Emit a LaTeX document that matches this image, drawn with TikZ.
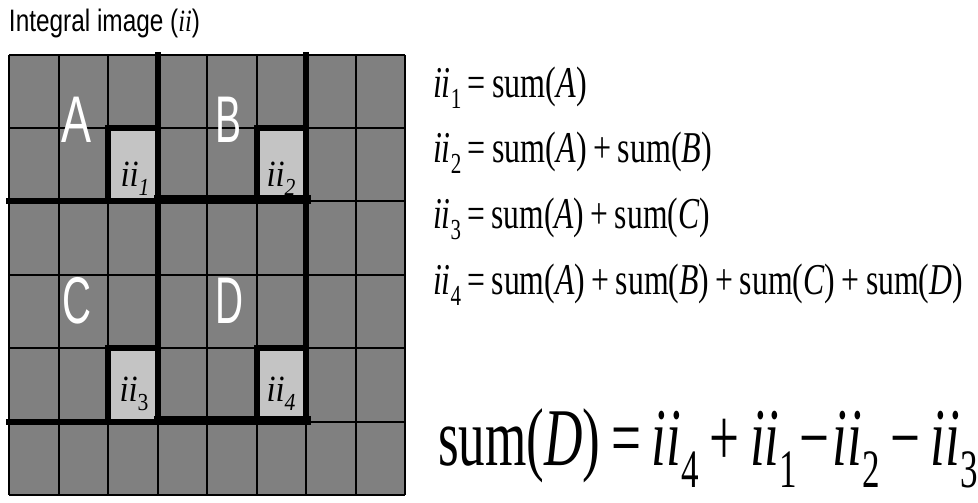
\documentclass[tikz,border=0pt]{standalone}
\usepackage{fontspec}
\setmainfont{Liberation Serif}
\newfontfamily\arialf{Liberation Sans}
\definecolor{cellgray}{HTML}{808080}
\definecolor{lightcell}{HTML}{C4C4C4}
\newcommand{\eqsub}[1]{\raisebox{-0.27em}{\scalebox{0.66}{#1}}}
\newcommand{\iisym}[1]{\textit{ii}\eqsub{#1}}
\newcommand{\opsp}{\hspace{0.2em}}
\begin{document}
\begin{tikzpicture}[x=1pt,y=-1pt,
  thinline/.style={line width=1.2pt,black},
  thickline/.style={line width=6pt,black,line cap=rect},
  thickerline/.style={line width=9pt,black,line cap=rect},
  txt/.style={inner sep=0pt,outer sep=0pt},
  bigletter/.style={txt,text=white,anchor=center},
  celllabel/.style={txt,anchor=base}]
\useasboundingbox (0,0) rectangle (978,503);
% cells
\fill[cellgray] (9,55) rectangle (405,495);
\fill[lightcell] (108,128) rectangle (158,201);
\fill[lightcell] (257,128) rectangle (306,201);
\fill[lightcell] (108,348) rectangle (158,422);
\fill[lightcell] (257,348) rectangle (306,422);
% thin grid
\foreach \x in {9,59,108,158,207,257,306,356,405}
  \draw[thinline] (\x,55) -- (\x,495);
\foreach \y in {55,128,201,275,348,422,495}
  \draw[thinline] (9,\y) -- (405,\y);
% thick region borders
\draw[thickline] (158,55) -- (158,422);
\draw[thickline] (306,55) -- (306,422);
\draw[thickline] (9,201) -- (158,201);
\draw[thickline] (9,422) -- (158,422);
\draw[thickerline] (158,199) -- (306,199);
\draw[thickerline] (158,420) -- (306,420);
% ii boxes
\draw[thickline] (108,201) -- (108,128) -- (158,128);
\draw[thickline] (257,201) -- (257,128) -- (306,128);
\draw[thickline] (108,422) -- (108,348) -- (158,348);
\draw[thickline] (257,422) -- (257,348) -- (306,348);
% title
\node[txt,anchor=base west] (title) at (9,32)
  {\resizebox{191pt}{\height}{\arialf\fontsize{31}{31}\selectfont Integral image ({\rmfamily\itshape ii})}};
% region letters
\node[bigletter] (lA) at (76,120) {\resizebox{30pt}{\height}{\arialf\fontsize{66}{66}\selectfont A}};
\node[bigletter] (lB) at (228,120) {\resizebox{26pt}{\height}{\arialf\fontsize{66}{66}\selectfont B}};
\node[bigletter] (lC) at (77,301) {\resizebox{29pt}{\height}{\arialf\fontsize{66}{66}\selectfont C}};
\node[bigletter] (lD) at (229,301) {\resizebox{28pt}{\height}{\arialf\fontsize{66}{66}\selectfont D}};
% cell labels
\node[celllabel] (c1) at (135,186) {\resizebox{29pt}{\height}{\fontsize{37}{37}\selectfont\textit{ii}\eqsub{\textit{1}}}};
\node[celllabel] (c2) at (281,186) {\resizebox{29pt}{\height}{\fontsize{37}{37}\selectfont\textit{ii}\eqsub{\textit{2}}}};
\node[celllabel] (c3) at (134,401) {\resizebox{29pt}{\height}{\fontsize{37}{37}\selectfont\textit{ii}\eqsub{3}}};
\node[celllabel] (c4) at (281,401) {\resizebox{29pt}{\height}{\fontsize{37}{37}\selectfont\textit{ii}\eqsub{\textit{4}}}};
% equations
\node[txt,anchor=base west] (e1) at (433,97)
  {\resizebox{154pt}{\height}{\fontsize{44}{44}\selectfont\iisym{1}\opsp=\opsp sum(\textit{A})}};
\node[txt,anchor=base west] (e2) at (433,162)
  {\resizebox{279pt}{\height}{\fontsize{44}{44}\selectfont\iisym{2}\opsp=\opsp sum(\textit{A})\opsp+\opsp sum(\textit{B})}};
\node[txt,anchor=base west] (e3) at (433,228)
  {\resizebox{277pt}{\height}{\fontsize{44}{44}\selectfont\iisym{3}\opsp=\opsp sum(\textit{A})\opsp+\opsp sum(\textit{C})}};
\node[txt,anchor=base west] (e4) at (433,294)
  {\resizebox{530pt}{\height}{\fontsize{44}{44}\selectfont\iisym{4}\opsp=\opsp sum(\textit{A})\opsp+\opsp sum(\textit{B})\opsp+\opsp sum(\textit{C})\opsp+\opsp sum(\textit{D})}};
\node[txt,anchor=base west] (e5) at (438,465)
  {\resizebox{540pt}{\height}{\fontsize{82}{82}\selectfont sum(\textit{D})\opsp=\opsp\iisym{4}\opsp+\opsp\iisym{1}\kern0.05em−\kern0.05em\iisym{2}\opsp−\opsp\iisym{3}}};
\end{tikzpicture}
\end{document}
